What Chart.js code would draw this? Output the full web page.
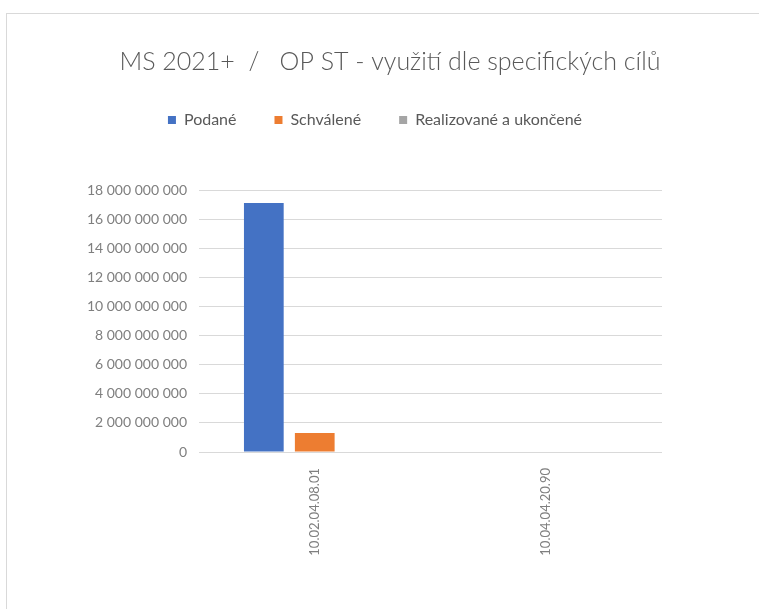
<!DOCTYPE html>
<html>
<head>
<meta charset="utf-8">
<script src="https://cdn.jsdelivr.net/npm/chart.js@4/dist/chart.umd.min.js"></script>
<style>
  html, body { margin:0; padding:0; background:#fff; overflow:hidden; }
  #frame { position:absolute; left:6px; top:13px; width:780px; height:620px; border:1px solid #d9d9d9; }
  #chart { display:block; }
</style>
</head>
<body>
<div id="frame"><canvas id="chart" width="766" height="595" style="width:766px;height:595px"></canvas></div>
<script>
/* data */
const categories  = ['10.02.04.08.01', '10.04.04.20.90'];
const podane      = [17100000000, 0];
const schvalene   = [1300000000, 0];
const realizovane = [0, 0];
const yTicks      = { min:0, max:18000000000, step:2000000000 };

const GRAY_TXT = '#7f7f7f';
const FONT = 'Lato, "Open Sans", sans-serif';

function spaced(v) { return String(v).replace(/\B(?=(\d{3})+(?!\d))/g, ' '); }

/* extra room under the legend, and nudge it a little up/left like the original */
const legendGap = {
    id: 'legendGap',
    beforeInit(chart) {
        const fit = chart.legend.fit;
        chart.legend.fit = function () { fit.bind(chart.legend)(); this.height += 49; };
    },
    afterLayout(chart) {
        const lg = chart.legend;
        lg.left -= 15; lg.right -= 15;
        lg.top  -= 3;  lg.bottom -= 3;
    }
};

new Chart(document.getElementById('chart').getContext('2d'), {
    type: 'bar',
    data: {
        labels: categories,
        datasets: [
            { label:'Podané',                 data:podane,      backgroundColor:'#4472c4' },
            { label:'Schválené',              data:schvalene,   backgroundColor:'#ed7d31' },
            { label:'Realizované a ukončené', data:realizovane, backgroundColor:'#a5a5a5' }
        ]
    },
    options: {
        responsive:false,
        animation:false,
        categoryPercentage:0.66,
        barPercentage:0.78,
        layout: { padding:0 },
        plugins: {
            title: { display:true, text:'MS 2021+  /   OP ST - využití dle specifických cílů', color:'#595959',
                     font:{ family:FONT, size:25, weight:300 }, padding:{ top:33, bottom:0 } },
            legend: { position:'top', labels:{ color:'#595959', font:{ family:FONT, size:16 }, boxWidth:8, boxHeight:8, padding:38 } },
            tooltip: { enabled:false }
        },
        scales: {
            x: {
                grid:{ display:false }, border:{ display:false },
                ticks:{ color:GRAY_TXT, font:{ family:FONT, size:13 }, minRotation:90, maxRotation:90, padding:8 },
                afterFit(s) { s.height = 157; }
            },
            y: {
                min:yTicks.min, max:yTicks.max,
                grid:{ color:'#d9d9d9', drawTicks:false }, border:{ display:false },
                ticks:{ stepSize:yTicks.step, color:GRAY_TXT, font:{ family:FONT, size:14 }, padding:12,
                        callback:v => spaced(v) },
                afterFit(s) { s.width = 192; }
            },
            /* empty right-hand spacer so the plot ends where the reference does */
            spacer: {
                type:'linear', position:'right', display:true,
                grid:{ display:false }, border:{ display:false }, ticks:{ display:false },
                afterFit(s) { s.width = 111; }
            }
        }
    },
    plugins:[legendGap]
});
</script>
</body>
</html>
